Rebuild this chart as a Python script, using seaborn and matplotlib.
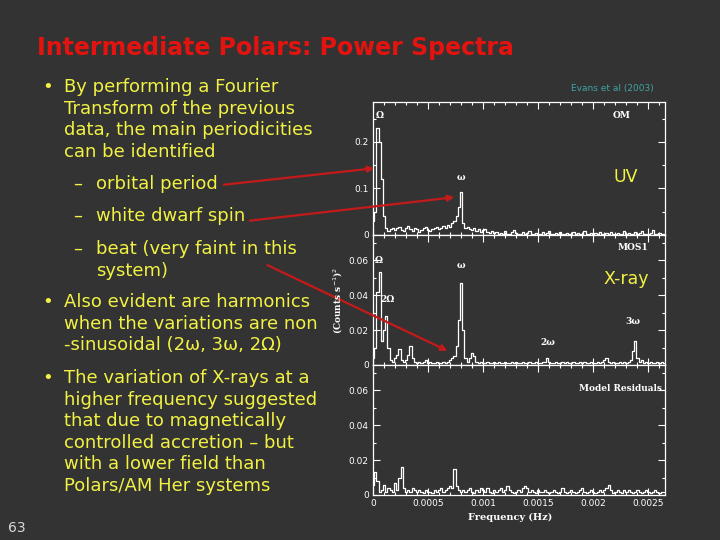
import numpy as np
import matplotlib
matplotlib.use("Agg")
import matplotlib.pyplot as plt
import seaborn as sns
from matplotlib.patches import FancyArrowPatch
from matplotlib.ticker import MultipleLocator

# bin width of the periodograms (Hz)
df_bin = 2e-5

# UV power spectrum (OM), one value per bin
uv_power = [
    0.030, 0.050, 0.230, 0.200, 0.120, 0.040, 0.015, 0.008, 0.012, 0.016,
    0.010, 0.014, 0.018, 0.011, 0.008, 0.015, 0.020, 0.013, 0.009, 0.016,
    0.012, 0.007, 0.010, 0.014, 0.017, 0.011, 0.008, 0.013, 0.015, 0.018,
    0.012, 0.016, 0.020, 0.014, 0.022, 0.018, 0.025, 0.030, 0.040, 0.060,
    0.092, 0.025, 0.014, 0.018, 0.012, 0.010, 0.015, 0.008, 0.012, 0.006,
    0.010, 0.013, 0.007, 0.005, 0.009, 0.004, 0.006, 0.003, 0.005, 0.002,
    0.008, 0.003, 0.002, 0.006, 0.010, 0.004, 0.002, 0.003, 0.007, 0.002,
    0.004, 0.009, 0.003, 0.002, 0.005, 0.002, 0.003, 0.006, 0.002, 0.004,
    0.008, 0.003, 0.002, 0.004, 0.002, 0.006, 0.003, 0.002, 0.005, 0.002,
    0.003, 0.007, 0.002, 0.004, 0.002, 0.003, 0.008, 0.002, 0.003, 0.005,
    0.002, 0.004, 0.002, 0.006, 0.003, 0.002, 0.004, 0.002, 0.007, 0.003,
    0.002, 0.005, 0.002, 0.003, 0.008, 0.002, 0.004, 0.002, 0.003, 0.006,
    0.002, 0.004, 0.009, 0.002, 0.003, 0.002, 0.005, 0.010, 0.003, 0.002,
    0.004, 0.002, 0.003,
]

# X-ray power spectrum (MOS1)
xray_power = [
    0.004, 0.010, 0.042, 0.053, 0.014, 0.020, 0.028, 0.010, 0.003, 0.002,
    0.004, 0.006, 0.009, 0.003, 0.002, 0.003, 0.006, 0.011, 0.004, 0.002,
    0.001, 0.002, 0.001, 0.002, 0.003, 0.001, 0.002, 0.001, 0.001, 0.002,
    0.001, 0.001, 0.002, 0.001, 0.002, 0.003, 0.004, 0.005, 0.011, 0.026,
    0.047, 0.020, 0.004, 0.002, 0.004, 0.007, 0.005, 0.002, 0.001, 0.002,
    0.001, 0.001, 0.002, 0.001, 0.001, 0.002, 0.001, 0.002, 0.001, 0.001,
    0.002, 0.001, 0.001, 0.002, 0.001, 0.002, 0.001, 0.001, 0.002, 0.001,
    0.001, 0.002, 0.001, 0.001, 0.002, 0.001, 0.001, 0.002, 0.002, 0.004,
    0.002, 0.001, 0.001, 0.002, 0.001, 0.001, 0.002, 0.001, 0.002, 0.001,
    0.001, 0.002, 0.001, 0.001, 0.002, 0.001, 0.002, 0.001, 0.001, 0.002,
    0.001, 0.001, 0.002, 0.001, 0.002, 0.003, 0.004, 0.002, 0.001, 0.002,
    0.001, 0.001, 0.002, 0.001, 0.002, 0.001, 0.002, 0.003, 0.008, 0.014,
    0.004, 0.002, 0.003, 0.001, 0.002, 0.001, 0.002, 0.001, 0.001, 0.002,
    0.001, 0.002, 0.001,
]

# model residuals
resid_power = [
    0.006, 0.013, 0.008, 0.002, 0.003, 0.006, 0.002, 0.004, 0.003, 0.002,
    0.007, 0.003, 0.010, 0.016, 0.004, 0.002, 0.003, 0.002, 0.004, 0.003,
    0.002, 0.003, 0.002, 0.001, 0.003, 0.002, 0.002, 0.001, 0.003, 0.002,
    0.003, 0.004, 0.002, 0.003, 0.004, 0.005, 0.004, 0.015, 0.005, 0.003,
    0.002, 0.003, 0.002, 0.003, 0.004, 0.002, 0.001, 0.003, 0.002, 0.004,
    0.003, 0.002, 0.004, 0.002, 0.001, 0.003, 0.002, 0.003, 0.004, 0.002,
    0.003, 0.005, 0.003, 0.002, 0.001, 0.002, 0.003, 0.002, 0.004, 0.005,
    0.004, 0.002, 0.003, 0.002, 0.001, 0.003, 0.002, 0.002, 0.003, 0.002,
    0.001, 0.002, 0.003, 0.002, 0.001, 0.002, 0.004, 0.002, 0.001, 0.002,
    0.003, 0.002, 0.001, 0.002, 0.003, 0.004, 0.002, 0.001, 0.002, 0.003,
    0.002, 0.001, 0.002, 0.003, 0.002, 0.003, 0.004, 0.006, 0.003, 0.001,
    0.002, 0.003, 0.002, 0.001, 0.003, 0.002, 0.003, 0.002, 0.001, 0.002,
    0.003, 0.002, 0.001, 0.002, 0.003, 0.002, 0.001, 0.002, 0.003, 0.002,
    0.001, 0.002, 0.002,
]

title = "Intermediate Polars: Power Spectra"
bullet1 = ["By performing a Fourier", "Transform of the previous",
           "data, the main periodicities", "can be identified"]
sub_items = [["orbital period"], ["white dwarf spin"],
             ["beat (very faint in this", "system)"]]
bullet2 = ["Also evident are harmonics", "when the variations are non",
           "-sinusoidal (2\u03c9, 3\u03c9, 2\u03a9)"]
bullet3 = ["The variation of X-rays at a", "higher frequency suggested",
           "that due to magnetically", "controlled accretion \u2013 but",
           "with a lower field than", "Polars/AM Her systems"]

BG = "#333333"
YEL = "#f2f244"
RED = "#e3140f"

sns.set_theme(style="ticks")
plt.rcParams["font.family"] = ["DejaVu Sans"]

W, H = 720, 540
fig = plt.figure(figsize=(7.2, 5.4), dpi=100, facecolor=BG)


def fx(px):
    return px / W


def fy(py):
    return 1 - py / H


# slide text
fig.text(fx(37), fy(48), title, color=RED, fontsize=17, fontweight="bold", va="center")

y = 87
fig.text(fx(42), fy(y), "\u2022", color=YEL, fontsize=13, va="center")
for line in bullet1:
    fig.text(fx(64), fy(y), line, color=YEL, fontsize=13, va="center")
    y += 21.6

for item, ys in zip(sub_items, [184, 216, 249]):
    fig.text(fx(73), fy(ys), "\u2013", color=YEL, fontsize=13, va="center")
    for k, line in enumerate(item):
        fig.text(fx(96), fy(ys + 21.6 * k), line, color=YEL, fontsize=13, va="center")

for lines, y0 in [(bullet2, 302), (bullet3, 378)]:
    fig.text(fx(42), fy(y0), "\u2022", color=YEL, fontsize=13, va="center")
    for k, line in enumerate(lines):
        fig.text(fx(64), fy(y0 + 21.6 * k), line, color=YEL, fontsize=13, va="center")

fig.text(fx(8), fy(528), "63", color="#d8d8d8", fontsize=10, va="center")
fig.text(fx(612), fy(88), "Evans et al (2003)", color="#3fa3a3", fontsize=6.5,
         ha="center", va="center")

# spectra panels
left, width = fx(373), (665 - 373) / W
panels = [
    (235, 133, uv_power, 0.286, 0.1, 0.05),
    (365, 130, xray_power, 0.0743, 0.02, 0.01),
    (495, 130, resid_power, 0.0743, 0.02, 0.01),
]
axes = []
for bottom_px, h_px, power, ytop, major, minor in panels:
    ax = fig.add_axes([left, fy(bottom_px), width, h_px / H])
    ax.set_facecolor(BG)
    freq = np.arange(len(power)) * df_bin
    sns.lineplot(x=freq, y=power, ax=ax, color="white", lw=0.9,
                 drawstyle="steps-mid", errorbar=None)
    ax.set_xlim(0, 0.00265)
    ax.set_ylim(0, ytop)
    ax.xaxis.set_major_locator(MultipleLocator(0.0005))
    ax.xaxis.set_minor_locator(MultipleLocator(0.0001))
    ax.yaxis.set_major_locator(MultipleLocator(major))
    ax.yaxis.set_minor_locator(MultipleLocator(minor))
    ax.yaxis.set_major_formatter(lambda v, p: f"{v:g}")
    ax.xaxis.set_major_formatter(lambda v, p: f"{v:g}")
    ax.tick_params(which="both", direction="in", top=True, right=True,
                   colors="white", labelsize=6.5, width=0.8, pad=3)
    ax.tick_params(which="major", length=5)
    ax.tick_params(which="minor", length=2.5)
    for s in ax.spines.values():
        s.set_color("white")
        s.set_linewidth(0.9)
    ax.set_xlabel("")
    ax.set_ylabel("")
    axes.append(ax)

for ax in axes[:2]:
    ax.tick_params(labelbottom=False)

lab = dict(color="white", fontsize=6.5, family="DejaVu Serif", fontweight="bold",
           ha="center", va="center")
a0, a1, a2 = axes
a0.text(6e-5, 0.256, "\u03a9", **lab)
a0.text(8.0e-4, 0.123, "\u03c9", **lab)
a0.text(2.26e-3, 0.256, "OM", **lab)
a0.text(2.29e-3, 0.125, "UV", color=YEL, fontsize=12.5, ha="center", va="center")

a1.text(2.36e-3, 0.0669, "MOS1", **lab)
a1.text(5.5e-5, 0.060, "\u03a9", **lab)
a1.text(1.36e-4, 0.0377, "2\u03a9", **lab)
a1.text(8.0e-4, 0.0566, "\u03c9", **lab)
a1.text(2.36e-3, 0.0246, "3\u03c9", **lab)
a1.text(1.59e-3, 0.0126, "2\u03c9", **lab)
a1.text(2.3e-3, 0.049, "X-ray", color=YEL, fontsize=12.5, ha="center", va="center")

a2.text(2.245e-3, 0.0611, "Model Residuals", **lab)

fig.text(fx(338), fy(300), "(Counts s$^{-1}$)$^2$", color="white", fontsize=6.5,
         family="DejaVu Serif", fontweight="bold", rotation=90, ha="center", va="center")
fig.text(fx(510), fy(517), "Frequency (Hz)", color="white", fontsize=7,
         family="DejaVu Serif", fontweight="bold", ha="center", va="center")

# red pointer arrows
for (x0, y0), (x1, y1) in [((221, 185), (377, 168)),
                           ((247, 221), (457, 197)),
                           ((265, 264), (450, 352))]:
    arr = FancyArrowPatch((fx(x0), fy(y0)), (fx(x1), fy(y1)), transform=fig.transFigure,
                          arrowstyle="-|>", mutation_scale=9, color="#c41a1a", lw=1.6)
    fig.add_artist(arr)

fig.savefig("out.png", dpi=100, facecolor=BG)
